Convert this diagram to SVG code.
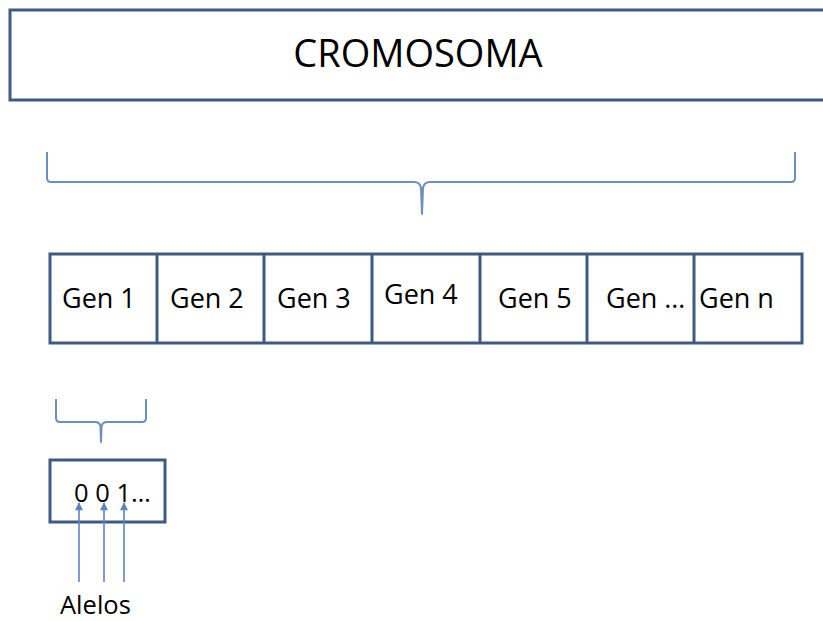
<svg xmlns="http://www.w3.org/2000/svg" width="823" height="621" viewBox="0 0 823 621">
  <defs>
    <style>
      .box { fill: #ffffff; stroke: #3c5a82; stroke-width: 3; }
      .div { stroke: #3c5a82; stroke-width: 3; fill: none; }
      .brace { fill: none; stroke: #6d8fc0; stroke-width: 2; stroke-linejoin: round; }
      .arrow { stroke: #5b84c0; stroke-width: 1.6; fill: none; }
      text { font-family: "Open Sans", "Noto Sans", sans-serif; fill: #000000; }
      .title { font-size: 38px; text-anchor: middle; }
      .gen { font-size: 27px; }
      .small { font-size: 25.5px; }
    </style>
    <marker id="tip" viewBox="0 0 10 10" refX="9" refY="5" markerWidth="9" markerHeight="8" markerUnits="userSpaceOnUse" orient="auto">
      <path d="M0,0 L10,5 L0,10 z" fill="#5b84c0"/>
    </marker>
  </defs>

  <!-- chromosome bar -->
  <g id="cromosoma">
    <rect class="box" x="10" y="10" width="830" height="90"/>
    <text class="title" x="418" y="67">CROMOSOMA</text>
  </g>

  <!-- gene row -->
  <g id="genes">
    <rect class="box" x="50" y="254" width="752" height="89"/>
    <path class="div" d="M157,254 V343 M264,254 V343 M372,254 V343 M480,254 V343 M587,254 V343 M694,254 V343"/>
  </g>
  <g id="gen1"><text class="gen" x="62" y="308">Gen 1</text></g>
  <g id="gen2"><text class="gen" x="170" y="308">Gen 2</text></g>
  <g id="gen3"><text class="gen" x="277" y="308">Gen 3</text></g>
  <g id="gen4"><text class="gen" x="384" y="304">Gen 4</text></g>
  <g id="gen5"><text class="gen" x="498" y="308">Gen 5</text></g>
  <g id="genDots"><text class="gen" x="606" y="308">Gen …</text></g>
  <g id="genN"><text class="gen" x="699" y="308">Gen n</text></g>

  <!-- allele box -->
  <g id="alelosBox">
    <rect class="box" x="50" y="460" width="115" height="62"/>
    <text class="small" x="74" y="502">0 0 1…</text>
  </g>

  <g id="alelosLabel">
    <text class="small" x="60" y="614">Alelos</text>
  </g>

  <!-- braces and arrows -->
  <g id="connectors">
    <path class="brace" d="M47,152 V178 Q47,182 51,182 H414 Q420,182 421,188 L422,214 L423,188 Q424,182 430,182 H791 Q795,182 795,178 V152"/>
    <path class="brace" d="M56,399 V418 Q56,422 60,422 H95 Q100,422 100.5,427 L101,442 L101.5,427 Q102,422 107,422 H142 Q146,422 146,418 V399"/>
    <line class="arrow" x1="79" y1="582" x2="79" y2="503" marker-end="url(#tip)"/>
    <line class="arrow" x1="104" y1="582" x2="104" y2="503" marker-end="url(#tip)"/>
    <line class="arrow" x1="124" y1="582" x2="124" y2="503" marker-end="url(#tip)"/>
  </g>
</svg>
